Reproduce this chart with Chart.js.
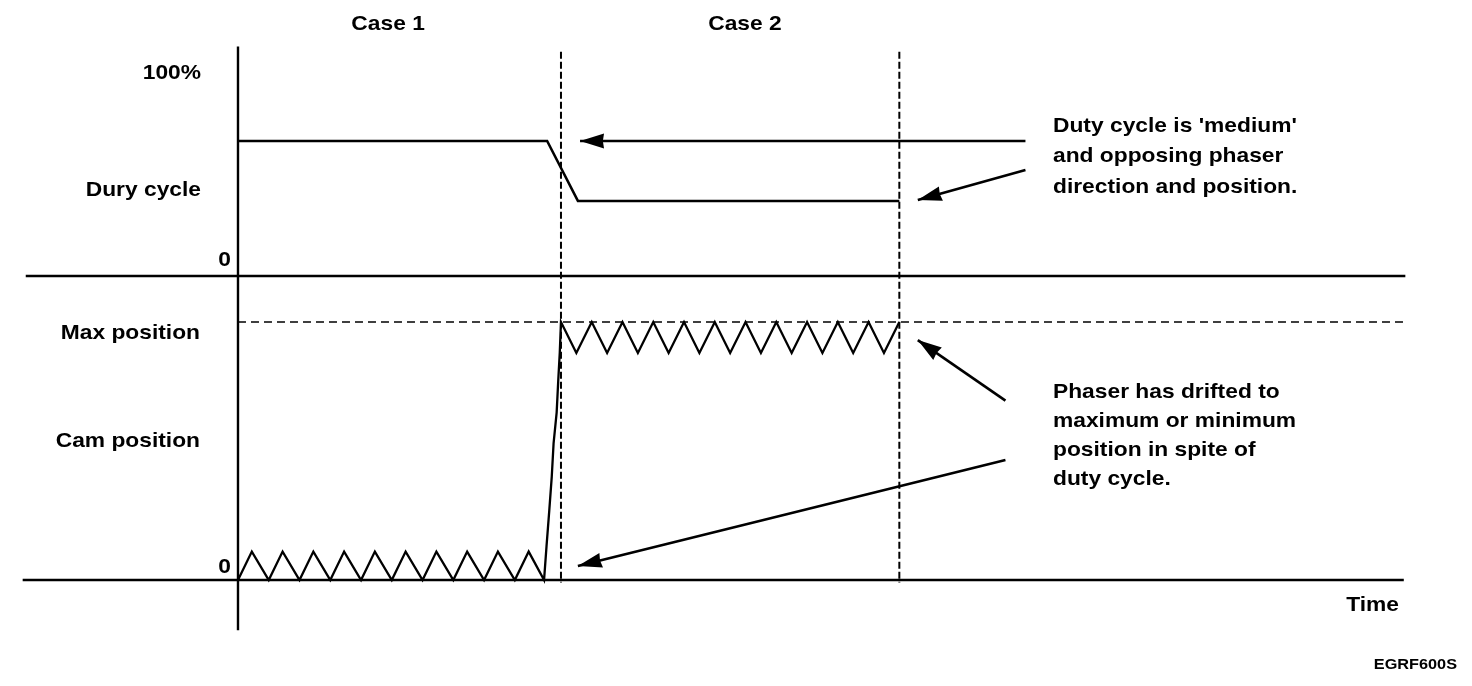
<!DOCTYPE html>
<html>
<head>
<meta charset="utf-8">
<script src="https://cdn.jsdelivr.net/npm/chart.js@4"></script>
<style>
  html, body { margin: 0; padding: 0; background: #fff; }
  #wrap { width: 1472px; height: 686px; position: relative; }
  canvas { display: block; }
</style>
</head>
<body>
<div id="wrap"><canvas id="c" width="1472" height="686"></canvas></div>
<script>
// ---- Data (time in triangle-period units, duty in %, cam position in % of max) ----
const caseLabels = ['Case 1', 'Case 2'];
const caseBoundaryTimes = [10.5, 21.5];

const dutyTimes  = [0, 10.05, 11.05, 21.5];
const dutyValues = [66.5, 66.5, 37, 37];

const camTimes  = [0, 0.45, 1, 1.45, 2, 2.45, 3, 3.45, 4, 4.45, 5, 5.45, 6, 6.45, 7, 7.45, 8, 8.45, 9, 9.45, 9.95,
                   10.03, 10.12, 10.2, 10.26, 10.36, 10.41, 10.46, 10.5,
                   11, 11.5, 12, 12.5, 13, 13.5, 14, 14.5, 15, 15.5, 16, 16.5, 17, 17.5, 18, 18.5, 19, 19.5, 20, 20.5, 21, 21.5];
const camValues = [0, 11, 0, 11, 0, 11, 0, 11, 0, 11, 0, 11, 0, 11, 0, 11, 0, 11, 0, 11, 0,
                   13, 27, 40, 53, 65, 77, 88, 100,
                   88, 100, 88, 100, 88, 100, 88, 100, 88, 100, 88, 100, 88, 100, 88, 100, 88, 100, 88, 100, 88, 100];

const maxPositionValue = 100;

// annotation arrows: [tipTime, tipValue, tailTime, tailValue]
const arrow1 = [11.12, 66.5, 25.6, 66.5];
const arrow2 = [22.1, 37.4, 25.6, 52.2];
const arrow3 = [22.1, 93.0, 24.95, 69.5];
const arrow4 = [11.05, 5.4, 24.95, 46.5];

const note1 = ["Duty cycle is 'medium'", "and opposing phaser", "direction and position."];
const note2 = ["Phaser has drifted to", "maximum or minimum", "position in spite of", "duty cycle."];

// ---- helpers ----
const zip = (xs, ys) => xs.map((x, i) => ({ x: x, y: ys[i] }));
const seg = (a) => [{ x: a[0], y: a[1] }, { x: a[2], y: a[3] }];

const base = { pointRadius: 0, borderColor: '#000', borderWidth: 2, fill: false, tension: 0, borderJoinStyle: 'miter' };

const datasets = [
  // axes
  Object.assign({}, base, { label: 'axisDuty', yAxisID: 'yd', data: [{ x: -6.9, y: 0 }, { x: 37.95, y: 0 }], borderWidth: 2.6 }),
  Object.assign({}, base, { label: 'axisCam', yAxisID: 'yc', data: [{ x: -7.0, y: 0 }, { x: 37.9, y: 0 }], borderWidth: 2.6 }),
  Object.assign({}, base, { label: 'axisV', yAxisID: 'yd', data: [{ x: 0, y: 113 }, { x: 0, y: -174.5 }], borderWidth: 2.4 }),
  // case boundaries
  Object.assign({}, base, { label: 'b1', yAxisID: 'yd', data: [{ x: caseBoundaryTimes[0], y: 110.5 }, { x: caseBoundaryTimes[0], y: -151 }], borderWidth: 2, borderDash: [7, 3] }),
  Object.assign({}, base, { label: 'b2', yAxisID: 'yd', data: [{ x: caseBoundaryTimes[1], y: 110.5 }, { x: caseBoundaryTimes[1], y: -151 }], borderWidth: 2, borderDash: [7, 3] }),
  // max position
  Object.assign({}, base, { label: 'max', yAxisID: 'yc', data: [{ x: 0, y: maxPositionValue }, { x: 37.9, y: maxPositionValue }], borderWidth: 1.6, borderDash: [8, 5] }),
  // series
  Object.assign({}, base, { label: 'Duty cycle', yAxisID: 'yd', data: zip(dutyTimes, dutyValues), borderWidth: 2.5 }),
  Object.assign({}, base, { label: 'Cam position', yAxisID: 'yc', data: zip(camTimes, camValues), borderWidth: 2.3 }),
  // arrows
  Object.assign({}, base, { label: 'a1', arrow: true, yAxisID: 'yd', data: seg(arrow1), borderWidth: 2.6 }),
  Object.assign({}, base, { label: 'a2', arrow: true, yAxisID: 'yd', data: seg(arrow2), borderWidth: 2.6 }),
  Object.assign({}, base, { label: 'a3', arrow: true, yAxisID: 'yc', data: seg(arrow3), borderWidth: 2.6 }),
  Object.assign({}, base, { label: 'a4', arrow: true, yAxisID: 'yc', data: seg(arrow4), borderWidth: 2.6 })
];

const FONT = '"Liberation Sans", Arial, Helvetica, sans-serif';
const SX = 1.085;

const bgPlugin = {
  id: 'bg',
  beforeDraw(chart) {
    const ctx = chart.ctx;
    ctx.save();
    ctx.fillStyle = '#fff';
    ctx.fillRect(0, 0, chart.width, chart.height);
    ctx.restore();
  }
};

const arrowPlugin = {
  id: 'arrows',
  afterDatasetsDraw(chart) {
    const ctx = chart.ctx;
    chart.data.datasets.forEach((ds, i) => {
      if (!ds.arrow) return;
      const meta = chart.getDatasetMeta(i);
      const p0 = meta.data[0], p1 = meta.data[1];
      const ang = Math.atan2(p1.y - p0.y, p1.x - p0.x);
      const len = 24, hw = 7.5;
      ctx.save();
      ctx.translate(p0.x, p0.y);
      ctx.rotate(ang);
      ctx.beginPath();
      ctx.moveTo(0, 0);
      ctx.lineTo(len, -hw);
      ctx.lineTo(len * 0.95, 0);
      ctx.lineTo(len, hw);
      ctx.closePath();
      ctx.fillStyle = '#000';
      ctx.fill();
      ctx.restore();
    });
  }
};

function txt(ctx, t, x, y) {
  ctx.save();
  ctx.translate(x, y);
  ctx.scale(SX, 1);
  ctx.fillText(t, 0, 0);
  ctx.restore();
}

const textPlugin = {
  id: 'texts',
  afterDraw(chart) {
    const ctx = chart.ctx;
    const xs = chart.scales.x;
    ctx.save();
    ctx.fillStyle = '#000';
    ctx.textBaseline = 'middle';
    ctx.font = 'bold 21px ' + FONT;
    ctx.textAlign = 'center';
    txt(ctx, caseLabels[0], xs.getPixelForValue(4.88), 24);
    txt(ctx, caseLabels[1], xs.getPixelForValue(16.48), 24);
    ctx.textAlign = 'right';
    txt(ctx, '100%', 201, 73);
    txt(ctx, 'Dury cycle', 201, 190);
    txt(ctx, 'Max position', 200, 333);
    txt(ctx, 'Cam position', 200, 441);
    txt(ctx, '0', 231, 260);
    txt(ctx, '0', 231, 567);
    txt(ctx, 'Time', 1399, 605);
    ctx.textAlign = 'left';
    note1.forEach((t, k) => txt(ctx, t, 1053, 126 + k * 30.5));
    note2.forEach((t, k) => txt(ctx, t, 1053, 392 + k * 29));
    ctx.textAlign = 'right';
    ctx.font = 'bold 15px ' + FONT;
    txt(ctx, 'EGRF600S', 1457, 665);
    ctx.restore();
  }
};

new Chart(document.getElementById('c'), {
  type: 'line',
  data: { datasets: datasets },
  options: {
    responsive: false,
    animation: false,
    events: [],
    layout: { padding: 0 },
    plugins: { legend: { display: false }, tooltip: { enabled: false } },
    scales: {
      x: { type: 'linear', display: false, min: -7.737, max: 40.117 },
      yd: { type: 'linear', display: false, min: -201.97, max: 135.96 },
      yc: { type: 'linear', display: false, min: -41.09, max: 224.81 }
    }
  },
  plugins: [bgPlugin, arrowPlugin, textPlugin]
});
</script>
</body>
</html>
